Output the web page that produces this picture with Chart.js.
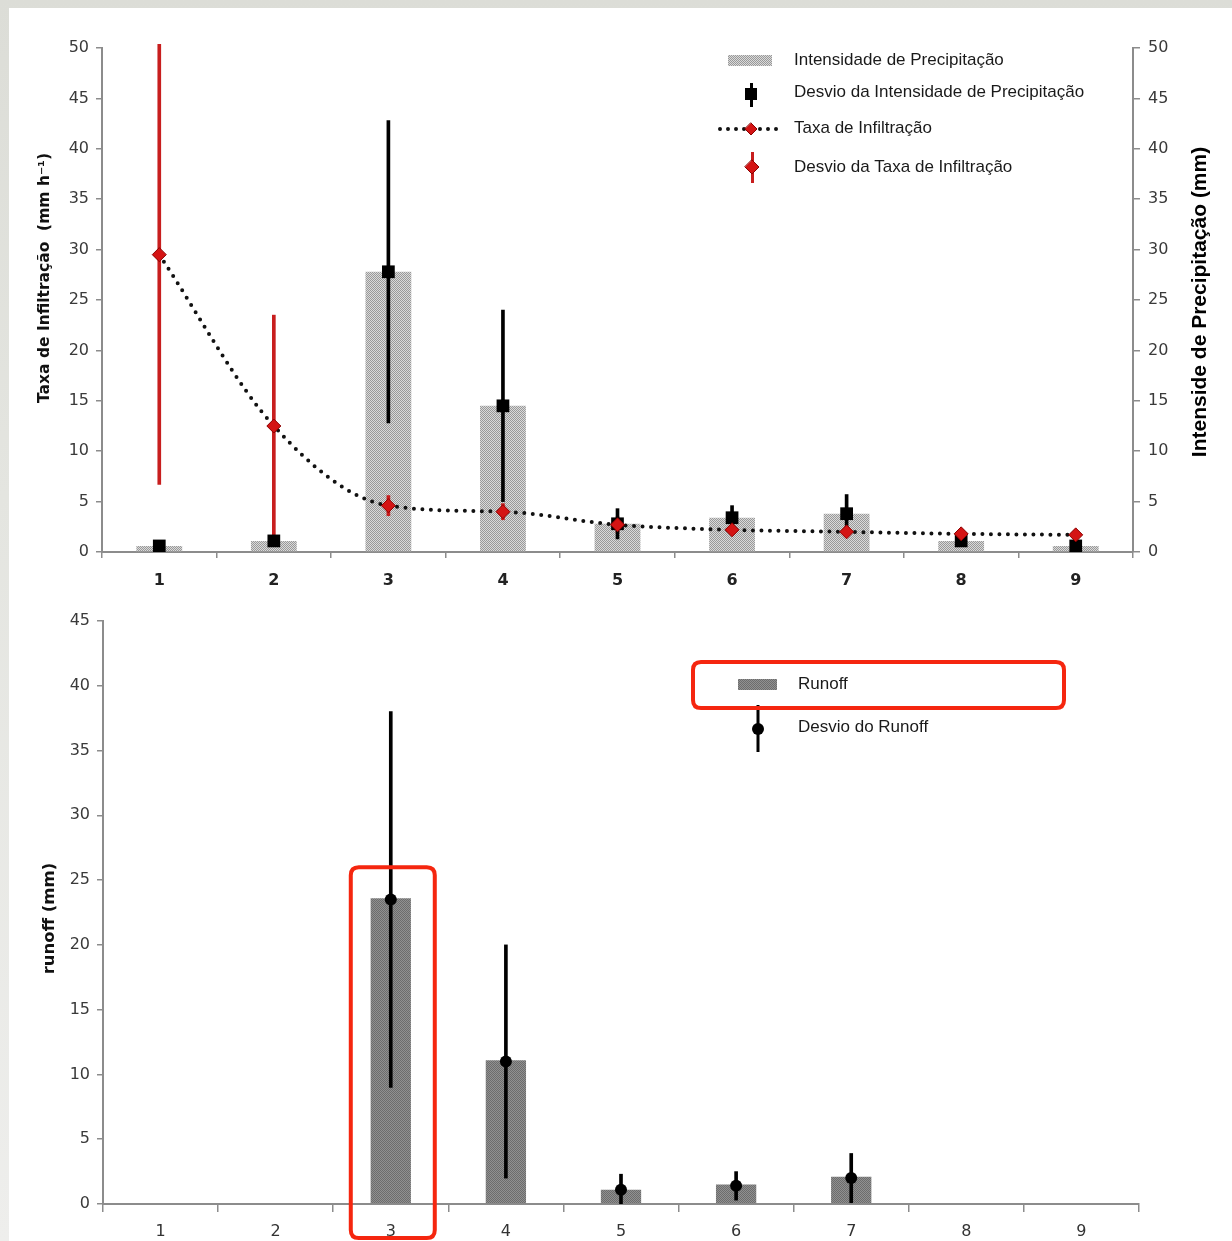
<!DOCTYPE html>
<html><head><meta charset="utf-8">
<script src="https://cdn.jsdelivr.net/npm/chart.js@4/dist/chart.umd.min.js"></script>
<style>
html,body{margin:0;padding:0;}
body{width:1232px;height:1241px;position:relative;overflow:hidden;background:linear-gradient(180deg,#dcddd7 0%,#e4e5e0 40%,#eeeeec 100%);}
#panel{position:absolute;left:9px;top:8px;right:0;bottom:0;background:#fff;}
#c1{position:absolute;left:0;top:0;}
#c2{position:absolute;left:0;top:600px;}
</style></head><body>
<div id="panel"></div>
<canvas id="c1" width="1232" height="600"></canvas>
<canvas id="c2" width="1232" height="641"></canvas>
<script>
// ---- data ----
const categories = ['1','2','3','4','5','6','7','8','9'];
const precipitation = [0.6, 1.1, 27.8, 14.5, 2.8, 3.4, 3.8, 1.1, 0.6];
const precipitationDev = [0, 0, 15.0, 9.5, 1.5, 1.2, 1.9, 0.3, 0.2];
const infiltration = [29.5, 12.5, 4.6, 4.0, 2.7, 2.2, 2.0, 1.8, 1.7];
const infiltrationDev = [22.8, 11.0, 1.0, 0.8, 0.8, 0.4, 0.3, 0.2, 0.2];
const runoff = [0, 0, 23.6, 11.1, 1.1, 1.5, 2.1, 0, 0];
const runoffMean = [null, null, 23.5, 11.0, 1.1, 1.4, 2.0, null, null];
const runoffDev = [null, null, 14.5, 9.0, 1.2, 1.1, 1.9, null, null];
const topAxisTicks = [0, 5, 10, 15, 20, 25, 30, 35, 40, 45, 50];
const runoffAxisTicks = [0, 5, 10, 15, 20, 25, 30, 35, 40, 45];

const LEG_FONT = '17px "Liberation Sans", Arial, sans-serif';
const TICK_FONT = 'DejaVu Sans';

function dotPattern(a, b) {
  const p = document.createElement('canvas'); p.width = 2; p.height = 2;
  const g = p.getContext('2d');
  g.fillStyle = b; g.fillRect(0, 0, 2, 2);
  g.fillStyle = a; g.fillRect(0, 0, 1, 1); g.fillRect(1, 1, 1, 1);
  return g.createPattern(p, 'repeat');
}
const lightPat = dotPattern('#999999', '#dadada');
const darkPat = dotPattern('#6c6c6c', '#909090');

const errRange = (vals, dev) => vals.map((v, i) => (dev[i] == null || v == null) ? null : [v - dev[i], v + dev[i]]);
const setTicks = arr => (s) => { s.ticks = arr.map(v => ({ value: v })); };

function diamond(ctx, x, y, r, fill, stroke) {
  ctx.beginPath();
  ctx.moveTo(x, y - r); ctx.lineTo(x + r, y); ctx.lineTo(x, y + r); ctx.lineTo(x - r, y); ctx.closePath();
  ctx.fillStyle = fill; ctx.fill();
  ctx.lineWidth = 1; ctx.strokeStyle = stroke; ctx.stroke();
}
function rrect(ctx, x, y, w, h, r) {
  ctx.beginPath();
  ctx.moveTo(x + r, y); ctx.lineTo(x + w - r, y); ctx.quadraticCurveTo(x + w, y, x + w, y + r);
  ctx.lineTo(x + w, y + h - r); ctx.quadraticCurveTo(x + w, y + h, x + w - r, y + h);
  ctx.lineTo(x + r, y + h); ctx.quadraticCurveTo(x, y + h, x, y + h - r);
  ctx.lineTo(x, y + r); ctx.quadraticCurveTo(x, y, x + r, y); ctx.closePath();
}
function vText(ctx, text, x, y, font, color) {
  ctx.save();
  ctx.translate(x, y); ctx.rotate(-Math.PI / 2);
  ctx.font = font; ctx.fillStyle = color; ctx.textAlign = 'center'; ctx.textBaseline = 'middle';
  ctx.fillText(text, 0, 0);
  ctx.restore();
}

const axisGray = '#8c8c8c';
function yAxis(pos, width, ticksArr, max) {
  return {
    position: pos, min: 0, max: max,
    afterBuildTicks: setTicks(ticksArr),
    ticks: { font: { family: TICK_FONT, size: 16 }, color: '#3a3a3a', padding: pos === 'left' ? 7 : 8 },
    grid: { drawOnChartArea: false, tickLength: pos === 'left' ? 6 : 7, color: axisGray, lineWidth: 1.5 },
    border: { display: true, color: axisGray, width: 2 },
    afterFit(s) { s.width = width; }
  };
}

// ---- chart 1 ----
const plugin1 = {
  id: 'deco1',
  afterDraw(chart) {
    const ctx = chart.ctx, ca = chart.chartArea;
    vText(ctx, 'Intenside de Precipitação (mm)', 1200, (ca.top + ca.bottom) / 2 + 2,
      'bold 21px "Liberation Sans", Arial, sans-serif', '#000');
    vText(ctx, 'Taxa de Infiltração  (mm h⁻¹)', 45, (ca.top + ca.bottom) / 2 - 22,
      'bold 15.5px "DejaVu Sans", sans-serif', '#111');

    ctx.save();
    ctx.font = LEG_FONT; ctx.textBaseline = 'middle'; ctx.textAlign = 'left';
    ctx.fillStyle = lightPat; ctx.fillRect(728, 55, 44, 11);
    ctx.fillStyle = '#1a1a1a'; ctx.fillText('Intensidade de Precipitação', 794, 60);
    ctx.fillStyle = '#000'; ctx.fillRect(750, 83, 3, 24); ctx.fillRect(745, 88, 12, 12);
    ctx.fillStyle = '#1a1a1a'; ctx.fillText('Desvio da Intensidade de Precipitação', 794, 92);
    ctx.strokeStyle = '#111'; ctx.lineWidth = 4; ctx.lineCap = 'round'; ctx.setLineDash([0, 8]);
    ctx.beginPath(); ctx.moveTo(720, 129); ctx.lineTo(782, 129); ctx.stroke(); ctx.setLineDash([]);
    diamond(ctx, 751, 129, 6, '#d41414', '#8b0000');
    ctx.fillStyle = '#1a1a1a'; ctx.fillText('Taxa de Infiltração', 794, 128);
    ctx.fillStyle = '#c81e1e'; ctx.fillRect(751, 152, 3, 31);
    diamond(ctx, 752, 167, 7, '#d41414', '#8b0000');
    ctx.fillStyle = '#1a1a1a'; ctx.fillText('Desvio da Taxa de Infiltração', 794, 167);
    ctx.restore();
  }
};

new Chart(document.getElementById('c1'), {
  type: 'bar',
  data: {
    labels: categories,
    datasets: [
      { type: 'line', label: 'Taxa de Infiltração', data: infiltration, yAxisID: 'y', order: 1,
        borderColor: '#111', borderWidth: 4, borderDash: [0, 8.5], borderCapStyle: 'round',
        cubicInterpolationMode: 'monotone', fill: false,
        pointStyle: 'rectRot', pointRadius: 7, pointBackgroundColor: '#d41414', pointBorderColor: '#8b0000', pointBorderWidth: 1 },
      { type: 'line', label: 'Intensidade (média)', data: precipitation, yAxisID: 'y1', order: 3, showLine: false,
        pointStyle: 'rect', pointRadius: 9, pointBackgroundColor: '#000', pointBorderColor: '#000', pointBorderWidth: 0 },
      { type: 'bar', label: 'Desvio da Intensidade de Precipitação', data: errRange(precipitation, precipitationDev), yAxisID: 'y1', order: 4,
        grouped: false, barThickness: 3, backgroundColor: '#000', borderWidth: 0 },
      { type: 'bar', label: 'Desvio da Taxa de Infiltração', data: errRange(infiltration, infiltrationDev), yAxisID: 'y', order: 5,
        grouped: false, barThickness: 3, backgroundColor: '#c81e1e', borderWidth: 0, clip: { left: 0, top: 4, right: 0, bottom: 0 } },
      { type: 'bar', label: 'Intensidade de Precipitação', data: precipitation, yAxisID: 'y1', order: 10,
        grouped: false, categoryPercentage: 1, barPercentage: 0.4, backgroundColor: lightPat, borderWidth: 0 }
    ]
  },
  options: {
    responsive: false, animation: false, devicePixelRatio: 1,
    layout: { padding: { top: 48, left: 0, right: 0, bottom: 0 } },
    plugins: { legend: { display: false }, tooltip: { enabled: false } },
    scales: {
      x: { offset: true,
        grid: { offset: true, drawOnChartArea: false, tickLength: 6, color: axisGray, lineWidth: 1.5 },
        border: { display: true, color: axisGray, width: 2 },
        ticks: { font: { family: TICK_FONT, size: 16, weight: 'bold' }, color: '#222', padding: 13 },
        afterFit(s) { s.height = 48; } },
      y: yAxis('left', 102, topAxisTicks, 50),
      y1: yAxis('right', 99, topAxisTicks, 50)
    }
  },
  plugins: [plugin1]
});

// ---- chart 2 ----
const plugin2 = {
  id: 'deco2',
  afterDraw(chart) {
    const ctx = chart.ctx, ca = chart.chartArea;
    vText(ctx, 'runoff (mm)', 50, (ca.top + ca.bottom) / 2 + 6,
      'bold 16.5px "DejaVu Sans", sans-serif', '#111');
    ctx.save();
    ctx.font = LEG_FONT; ctx.textBaseline = 'middle'; ctx.textAlign = 'left';
    ctx.fillStyle = darkPat; ctx.fillRect(738, 79, 39, 11);
    ctx.fillStyle = '#1a1a1a'; ctx.fillText('Runoff', 798, 84);
    ctx.fillStyle = '#000'; ctx.fillRect(756.5, 105, 3, 47);
    ctx.beginPath(); ctx.arc(758, 129, 6, 0, Math.PI * 2); ctx.fill();
    ctx.fillStyle = '#1a1a1a'; ctx.fillText('Desvio do Runoff', 798, 127);
    ctx.strokeStyle = '#f5260f'; ctx.lineWidth = 4;
    rrect(ctx, 693, 62, 371, 46, 8); ctx.stroke();
    const xs = chart.scales.x, ys = chart.scales.y;
    const cx = xs.getPixelForValue(2);
    const top = ys.getPixelForValue(runoff[2]) - 31;
    rrect(ctx, cx - 40, top, 84, 640 - top - 2, 8); ctx.stroke();
    ctx.restore();
  }
};

new Chart(document.getElementById('c2'), {
  type: 'bar',
  data: {
    labels: categories,
    datasets: [
      { type: 'line', label: 'Desvio do Runoff (média)', data: runoffMean, order: 1, showLine: false,
        pointStyle: 'circle', pointRadius: 6, pointBackgroundColor: '#000', pointBorderColor: '#000', pointBorderWidth: 0 },
      { type: 'bar', label: 'Desvio do Runoff', data: errRange(runoffMean, runoffDev), order: 2,
        grouped: false, barThickness: 3, backgroundColor: '#000', borderWidth: 0 },
      { type: 'bar', label: 'Runoff', data: runoff, order: 10,
        grouped: false, categoryPercentage: 1, barPercentage: 0.35, backgroundColor: darkPat, borderWidth: 0 }
    ]
  },
  options: {
    responsive: false, animation: false, devicePixelRatio: 1,
    layout: { padding: { top: 21, left: 0, right: 93, bottom: 0 } },
    plugins: { legend: { display: false }, tooltip: { enabled: false } },
    scales: {
      x: { offset: true,
        grid: { offset: true, drawOnChartArea: false, tickLength: 8, color: axisGray, lineWidth: 1.5 },
        border: { display: true, color: axisGray, width: 2 },
        ticks: { font: { family: TICK_FONT, size: 16 }, color: '#333', padding: 10 },
        afterFit(s) { s.height = 37; } },
      y: yAxis('left', 103, runoffAxisTicks, 45)
    }
  },
  plugins: [plugin2]
});
</script>
</body></html>
